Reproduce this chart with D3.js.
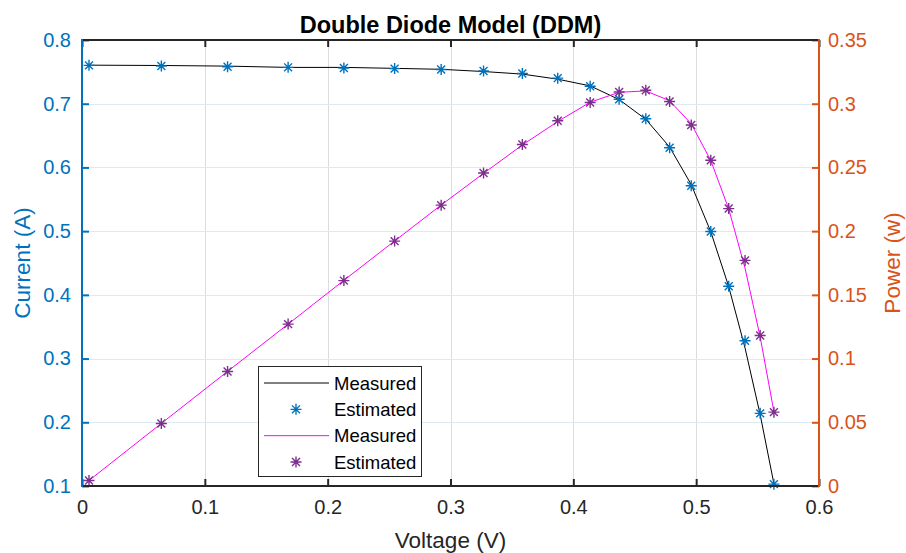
<!DOCTYPE html>
<html>
<head>
<meta charset="utf-8">
<script src="https://cdn.jsdelivr.net/npm/d3@7"></script>
<style>
  html, body { margin: 0; padding: 0; background: #fff; }
  svg { display: block; font-family: "Liberation Sans", Arial, Helvetica, sans-serif; }
</style>
</head>
<body>
<svg id="chart" width="906" height="553"></svg>
<script>
// ---- data ----
const voltage = [0.0057, 0.0646, 0.1185, 0.1678, 0.2132, 0.2545, 0.2924, 0.3269, 0.3585, 0.3873,
                 0.4137, 0.4373, 0.4590, 0.4784, 0.4960, 0.5119, 0.5265, 0.5398, 0.5521, 0.5633];
const currentMeasured = [0.7605, 0.7600, 0.7590, 0.7570, 0.7570, 0.7555, 0.7540, 0.7505, 0.7465, 0.7385,
                         0.7280, 0.7065, 0.6755, 0.6320, 0.5730, 0.4990, 0.4130, 0.3165, 0.2120, 0.1035];
const currentEstimated = [0.7602, 0.7591, 0.7580, 0.7571, 0.7561, 0.7551, 0.7537, 0.7514, 0.7474, 0.7401,
                          0.7274, 0.7070, 0.6765, 0.6308, 0.5712, 0.4995, 0.4135, 0.3280, 0.2140, 0.1029];
const powerMeasured = [0.00434, 0.04910, 0.08994, 0.12703, 0.16139, 0.19228, 0.22047, 0.24534, 0.26762, 0.28602,
                       0.30117, 0.30895, 0.31006, 0.30235, 0.28421, 0.25544, 0.21745, 0.17085, 0.11705, 0.05830];
const powerEstimated = [0.00433, 0.04904, 0.08982, 0.12704, 0.16120, 0.19217, 0.22038, 0.24563, 0.26794, 0.28664,
                        0.30093, 0.30917, 0.31051, 0.30178, 0.28332, 0.25569, 0.21771, 0.17705, 0.11815, 0.05796];
const xTicks = [0, 0.1, 0.2, 0.3, 0.4, 0.5, 0.6];
const yLeftTicks = [0.1, 0.2, 0.3, 0.4, 0.5, 0.6, 0.7, 0.8];
const yRightTicks = [0, 0.05, 0.1, 0.15, 0.2, 0.25, 0.3, 0.35];
const legendItems = [
  {label: "Measured", kind: "line", color: "#000000"},
  {label: "Estimated", kind: "marker", color: "#0072BD"},
  {label: "Measured", kind: "line", color: "#FF00FF"},
  {label: "Estimated", kind: "marker", color: "#7E2F8E"}
];

// ---- layout ----
const L = 82, R = 819, T = 40, B = 486;
const BLUE = "#0072BD", ORANGE = "#D95319", DARK = "#262626";

const svg = d3.select("#chart");
const x = d3.scaleLinear().domain([0, 0.6]).range([L, R]);
const yL = d3.scaleLinear().domain([0.1, 0.8]).range([B, T]);
const yR = d3.scaleLinear().domain([0, 0.35]).range([B, T]);

// grid
const grid = svg.append("g");
grid.selectAll("line.vg").data(xTicks.slice(1, -1)).join("line")
  .attr("x1", d => Math.round(x(d)) + 0.5).attr("x2", d => Math.round(x(d)) + 0.5)
  .attr("y1", T).attr("y2", B)
  .attr("stroke", "#DCDCDC").attr("stroke-width", 1);
grid.selectAll("line.hg").data(yLeftTicks.slice(1, -1)).join("line")
  .attr("y1", d => Math.round(yL(d)) + 0.5).attr("y2", d => Math.round(yL(d)) + 0.5)
  .attr("x1", L).attr("x2", R)
  .attr("stroke", "#DCEAF4").attr("stroke-width", 1);

// asterisk marker path
function asterisk(r) {
  const d = r * 0.72;
  return `M${-r},0L${r},0M0,${-r}L0,${r}M${-d},${-d}L${d},${d}M${-d},${d}L${d},${-d}`;
}

const idx = d3.range(voltage.length);

// measured current line
svg.append("path")
  .attr("d", d3.line().x(i => x(voltage[i])).y(i => yL(currentMeasured[i]))(idx))
  .attr("fill", "none").attr("stroke", "#000").attr("stroke-width", 1);

// estimated current markers
svg.append("g").selectAll("path").data(idx).join("path")
  .attr("transform", i => `translate(${x(voltage[i])},${yL(currentEstimated[i])})`)
  .attr("d", asterisk(5.5))
  .attr("fill", "none").attr("stroke", BLUE).attr("stroke-width", 1.4);

// measured power line
svg.append("path")
  .attr("d", d3.line().x(i => x(voltage[i])).y(i => yR(powerMeasured[i]))(idx))
  .attr("fill", "none").attr("stroke", "#FF00FF").attr("stroke-width", 1);

// estimated power markers
svg.append("g").selectAll("path").data(idx).join("path")
  .attr("transform", i => `translate(${x(voltage[i])},${yR(powerEstimated[i])})`)
  .attr("d", asterisk(5.5))
  .attr("fill", "none").attr("stroke", "#7E2F8E").attr("stroke-width", 1.4);

// axes
const TL = 7;
const axBottom = svg.append("g").attr("transform", `translate(0,${B})`)
  .call(d3.axisBottom(x).tickValues(xTicks).tickSize(-TL).tickPadding(14).tickFormat(d3.format("~g")));
const axTop = svg.append("g").attr("transform", `translate(0,${T})`)
  .call(d3.axisTop(x).tickValues(xTicks).tickSize(-TL).tickFormat(""));
const axLeft = svg.append("g").attr("transform", `translate(${L},0)`)
  .call(d3.axisLeft(yL).tickValues(yLeftTicks).tickSize(-TL).tickPadding(11).tickFormat(d3.format("~g")));
const axRight = svg.append("g").attr("transform", `translate(${R},0)`)
  .call(d3.axisRight(yR).tickValues(yRightTicks).tickSize(-TL).tickPadding(9).tickFormat(d3.format("~g")));

[axBottom, axTop, axLeft, axRight].forEach(a => {
  a.select(".domain").remove();
  a.selectAll("text").attr("font-size", 20).attr("font-family", null);
});
axBottom.selectAll("line").attr("stroke", DARK).attr("stroke-width", 2);
axTop.selectAll("line").attr("stroke", DARK).attr("stroke-width", 2);
axBottom.selectAll("text").attr("fill", DARK);
axLeft.selectAll("line").attr("stroke", BLUE).attr("stroke-width", 2);
axLeft.selectAll("text").attr("fill", BLUE);
axRight.selectAll("line").attr("stroke", ORANGE).attr("stroke-width", 2);
axRight.selectAll("text").attr("fill", ORANGE);

// box lines
svg.append("line").attr("x1", L - 1).attr("x2", R + 1).attr("y1", B).attr("y2", B).attr("stroke", DARK).attr("stroke-width", 2);
svg.append("line").attr("x1", L - 1).attr("x2", R + 1).attr("y1", T).attr("y2", T).attr("stroke", DARK).attr("stroke-width", 2);
svg.append("line").attr("x1", L).attr("x2", L).attr("y1", T - 1).attr("y2", B + 1).attr("stroke", BLUE).attr("stroke-width", 2);
svg.append("line").attr("x1", R).attr("x2", R).attr("y1", T - 1).attr("y2", B + 1).attr("stroke", ORANGE).attr("stroke-width", 2);

// title & labels
svg.append("text").attr("x", (L + R) / 2).attr("y", 33).attr("text-anchor", "middle")
  .attr("font-size", 23.5).attr("font-weight", "bold").attr("fill", "#000")
  .text("Double Diode Model (DDM)");
svg.append("text").attr("x", (L + R) / 2).attr("y", 548).attr("text-anchor", "middle")
  .attr("font-size", 22.5).attr("fill", DARK).text("Voltage (V)");
svg.append("text").attr("transform", `translate(30,${(T + B) / 2}) rotate(-90)`).attr("text-anchor", "middle")
  .attr("font-size", 22.5).attr("fill", BLUE).text("Current (A)");
svg.append("text").attr("transform", `translate(900,${(T + B) / 2}) rotate(-90)`).attr("text-anchor", "middle")
  .attr("font-size", 22.5).attr("fill", ORANGE).text("Power (w)");

// legend
const lg = svg.append("g");
lg.append("rect").attr("x", 258.5).attr("y", 366.5).attr("width", 163).attr("height", 110)
  .attr("fill", "#fff").attr("stroke", "#262626").attr("stroke-width", 1);
const rowY = d3.scaleLinear().domain([0, 3]).range([383, 462]);
legendItems.forEach((it, i) => {
  const cy = rowY(i);
  if (it.kind === "line") {
    lg.append("line").attr("x1", 264).attr("x2", 329).attr("y1", cy).attr("y2", cy)
      .attr("stroke", it.color).attr("stroke-width", 1);
  } else {
    lg.append("path").attr("transform", `translate(296,${cy})`).attr("d", asterisk(5.5))
      .attr("fill", "none").attr("stroke", it.color).attr("stroke-width", 1.4);
  }
  lg.append("text").attr("x", 334).attr("y", cy + 6.5).attr("font-size", 18.5).attr("fill", "#000").text(it.label);
});
</script>
</body>
</html>
